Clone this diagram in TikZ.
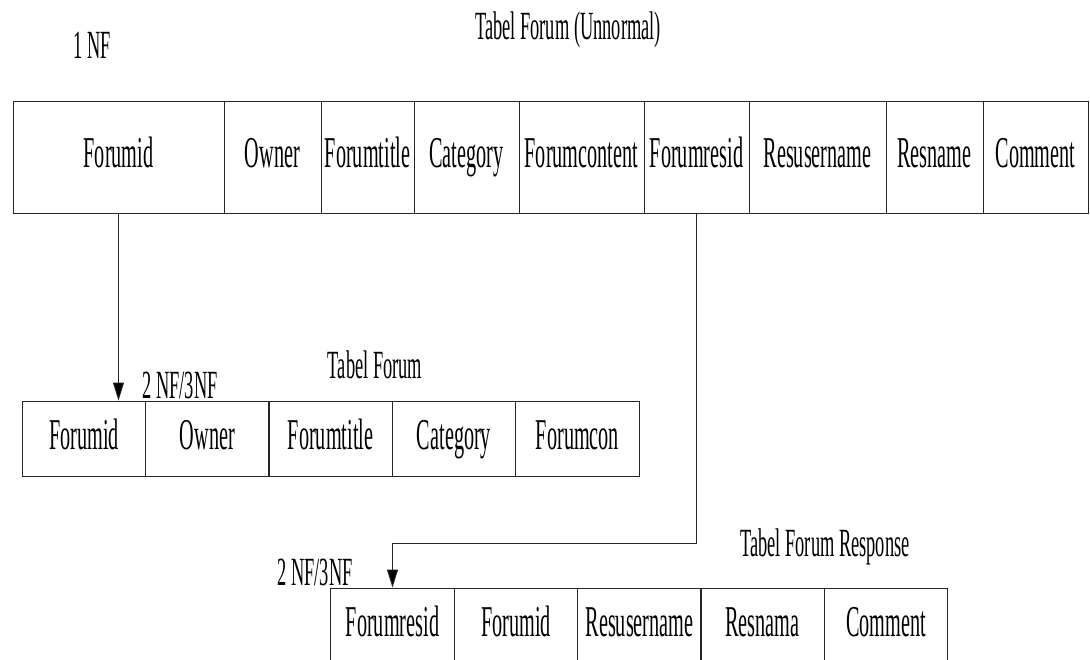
\documentclass[tikz,border=0pt]{standalone}
\usepackage{fontspec}
\setmainfont{Liberation Serif}[FakeStretch=0.46]
\usetikzlibrary{arrows.meta}

\begin{document}
\begin{tikzpicture}[x=1pt, y=-1pt,
    cell/.style={draw=black!85, line width=0.9pt, inner sep=0pt, anchor=center,
      text height=30pt, text depth=9pt,
      font=\fontsize{44}{46}\selectfont},
    topcell/.style={cell, minimum height=112pt},
    lowcell/.style={cell, minimum height=75pt, minimum width=123.4pt},
    caption/.style={inner sep=0pt, font=\fontsize{40}{42}\selectfont},
    arr/.style={draw=black!85, line width=0.9pt, -{Triangle[length=18pt, width=11pt, fill=black]}}]
    \useasboundingbox (0, 0) rectangle (1090, 660);

    \node[caption] (nf_one) at (92, 45) {1 NF};
    \node[caption] (cap_unnormal) at (568, 30) {Tabel Forum (Unnormal)};

    \node[topcell, minimum width=211pt] (f_id) at (118.5, 157) {Forumid};
    \node[topcell, minimum width=97pt] (f_owner) at (272.5, 157) {Owner};
    \node[topcell, minimum width=93pt] (f_title) at (367.5, 157) {Forumtitle};
    \node[topcell, minimum width=105pt] (f_cat) at (466.5, 157) {Category};
    \node[topcell, minimum width=125pt] (f_content) at (581.5, 157) {Forumcontent};
    \node[topcell, minimum width=105pt] (f_resid) at (696.5, 157) {Forumresid};
    \node[topcell, minimum width=137pt] (f_resuser) at (817.5, 157) {Resusername};
    \node[topcell, minimum width=97pt] (f_resname) at (934.5, 157) {Resname};
    \node[topcell, minimum width=105pt] (f_comment) at (1035.5, 157) {Comment};

    \node[caption] (nf_two_a) at (180, 385) {2 NF/3NF};
    \node[caption] (cap_forum) at (375, 365) {Tabel Forum};

    \node[lowcell] (t_id) at (84, 438.5) {Forumid};
    \node[lowcell] (t_owner) at (207.5, 438.5) {Owner};
    \node[lowcell] (t_title) at (330.5, 438.5) {Forumtitle};
    \node[lowcell] (t_cat) at (454, 438.5) {Category};
    \node[lowcell] (t_con) at (577.5, 438.5) {Forumcon};

    \node[caption] (nf_two_b) at (315, 572) {2 NF/3NF};
    \node[caption] (cap_response) at (825, 547) {Tabel Forum Response};

    \node[lowcell] (r_resid) at (392.5, 625.5) {Forumresid};
    \node[lowcell] (r_id) at (516, 625.5) {Forumid};
    \node[lowcell] (r_user) at (639.5, 625.5) {Resusername};
    \node[lowcell] (r_nama) at (762.5, 625.5) {Resnama};
    \node[lowcell] (r_comment) at (886, 625.5) {Comment};

    \coordinate (turn) at (696.5, 543);

    \draw[arr] (f_id.south) -- (f_id.south |- t_id.north);
    \draw[arr] (f_resid.south) -- (turn) -| (r_resid.north);
  \end{tikzpicture}
\end{document}
